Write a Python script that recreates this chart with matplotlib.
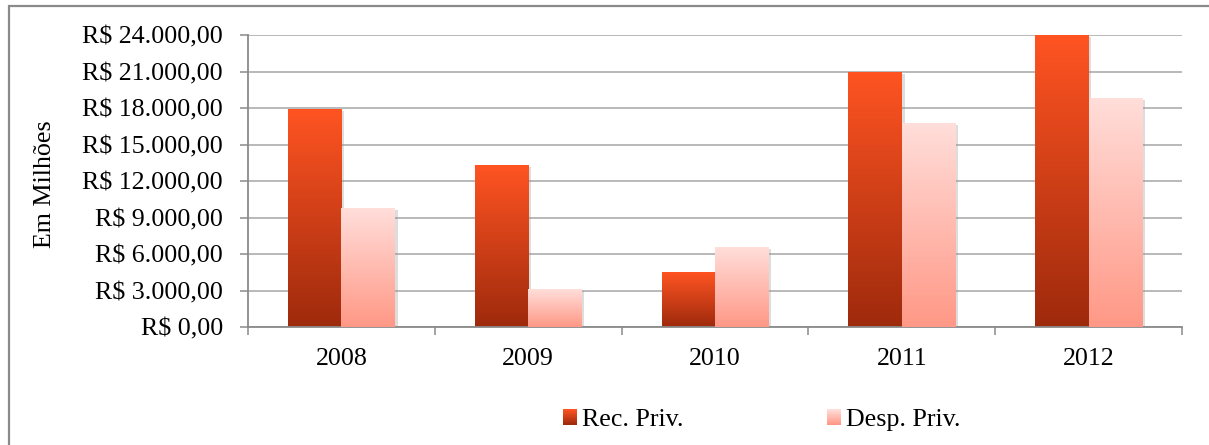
import matplotlib
matplotlib.use("Agg")
import matplotlib.pyplot as plt
import numpy as np
from matplotlib.colors import LinearSegmentedColormap
from matplotlib.patches import Rectangle
from matplotlib.legend_handler import HandlerBase
import matplotlib.patheffects as pe

# ---- data ----
years = ["2008", "2009", "2010", "2011", "2012"]
rec_priv = [17900, 13300, 4500, 21000, 24000]
desp_priv = [9750, 3100, 6550, 16750, 18850]
series_names = ["Rec. Priv.", "Desp. Priv."]
yticks = [0, 3000, 6000, 9000, 12000, 15000, 18000, 21000, 24000]
ytick_labels = ["R$ 0,00", "R$ 3.000,00", "R$ 6.000,00", "R$ 9.000,00",
                "R$ 12.000,00", "R$ 15.000,00", "R$ 18.000,00",
                "R$ 21.000,00", "R$ 24.000,00"]
ylabel = "Em Milhões"

# ---- styles ----
rec_top, rec_bot = "#FF5422", "#9E2A0C"
desp_top, desp_bot = "#FFDEDA", "#FF9886"
FONT = "Liberation Serif"
FS = 18.7

plt.rcParams["font.family"] = [FONT, "DejaVu Serif"]

W, H = 1209, 445
fig = plt.figure(figsize=(W / 100, H / 100), dpi=100)
ax = fig.add_axes([248 / W, 1 - 327 / H, (1182 - 248) / W, (327 - 35) / H])

# outer chart border
fig.patches.append(Rectangle((8.5 / W, -0.2), 1.2, 1.2 - 5.5 / H,
                             transform=fig.transFigure, fill=False,
                             edgecolor="#8a8a8a", linewidth=1.6, zorder=0))

x = np.arange(len(years))
bw = 0.286

cmaps = [LinearSegmentedColormap.from_list("rec", [rec_bot, rec_top]),
         LinearSegmentedColormap.from_list("desp", [desp_bot, desp_top])]
grad = np.linspace(0, 1, 256).reshape(-1, 1)

shadow = [pe.SimplePatchShadow(offset=(2.0, -1.5), shadow_rgbFace="#8f8f8f", alpha=0.3),
          pe.Normal()]

for i, (vals, cm) in enumerate(zip([rec_priv, desp_priv], cmaps)):
    offs = -bw / 2 if i == 0 else bw / 2
    bars = ax.bar(x + offs, vals, width=bw, facecolor="none", edgecolor="none",
                  zorder=2 + i)
    for b in bars:
        b.set_path_effects(shadow)
        x0, w, h = b.get_x(), b.get_width(), b.get_height()
        im = ax.imshow(grad, extent=[x0, x0 + w, 0, h], origin="lower",
                       cmap=cm, aspect="auto", zorder=2.5 + i,
                       interpolation="bilinear")
        im.set_clip_path(b)

ax.set_xlim(-0.5, len(years) - 0.5)
ax.set_ylim(0, 24000)

# grid & axes
ax.set_yticks(yticks)
ax.set_yticklabels(ytick_labels, fontsize=FS)
ax.yaxis.grid(True, color="#b3b3b3", linewidth=1.3)
ax.set_axisbelow(True)
ax.tick_params(axis="y", length=6, width=1.1, color="#8a8a8a", pad=12)

ax.set_xticks(x)
ax.set_xticklabels(years, fontsize=FS)
ax.tick_params(axis="x", which="major", length=0, pad=15)
ax.set_xticks(np.arange(-0.5, len(years)), minor=True)
ax.tick_params(axis="x", which="minor", length=5.5, width=1.1, color="#8a8a8a")

for s in ["top", "right"]:
    ax.spines[s].set_visible(False)
for s in ["left", "bottom"]:
    ax.spines[s].set_color("#8a8a8a")
    ax.spines[s].set_linewidth(1.3)

fig.text(45 / W, 1 - 184 / H, ylabel, rotation=90, ha="center", va="center",
         fontsize=FS)


# legend with gradient swatches
class GradHandler(HandlerBase):
    def __init__(self, top, bot):
        super().__init__()
        self.cm = LinearSegmentedColormap.from_list("g", [bot, top])

    def create_artists(self, legend, orig_handle, xdescent, ydescent, width,
                       height, fontsize, trans):
        n = 20
        arts = []
        for k in range(n):
            r = Rectangle((-xdescent, -ydescent + height * k / n), width,
                          height / n + 0.3, facecolor=self.cm(k / (n - 1)),
                          edgecolor="none", transform=trans)
            arts.append(r)
        return arts


h1 = Rectangle((0, 0), 1, 1)
h2 = Rectangle((0, 0), 1, 1)
fig.legend([h1, h2], series_names, loc="center",
           bbox_to_anchor=(0.630, 1 - 420 / H), ncol=2, frameon=False,
           fontsize=FS, handlelength=0.56, handleheight=0.56,
           handletextpad=0.2, columnspacing=5.5, borderpad=0,
           handler_map={h1: GradHandler(rec_top, rec_bot),
                        h2: GradHandler(desp_top, desp_bot)})

fig.savefig("out.png", dpi=100)
